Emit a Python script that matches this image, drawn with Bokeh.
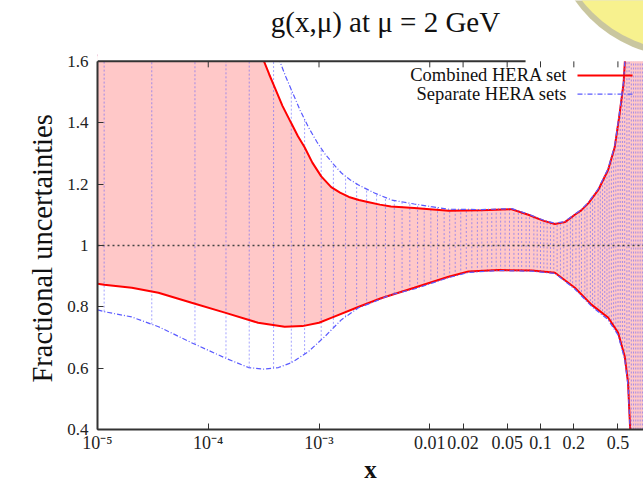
import numpy as np
from bokeh.plotting import figure
from bokeh.models import FixedTicker, Range1d, Label, Title
from bokeh.embed import file_html
from bokeh.resources import INLINE

# ---- data (log10 x, value) ----
red_upper_logx = [-5.00, -4.50, -4.00, -3.70, -3.55, -3.50, -3.45, -3.40, -3.33, -3.25, -3.19, -3.13,
                  -3.06, -2.98, -2.89, -2.81, -2.73, -2.64, -2.55, -2.45, -2.35, -2.14, -1.83, -1.53,
                  -1.26, -1.11, -0.97, -0.87, -0.78, -0.69, -0.63, -0.567, -0.48, -0.39, -0.33, -0.29,
                  -0.25, -0.235, -0.20, -0.10, 0.0]
red_upper = [2.60, 2.30, 2.00, 1.78, 1.64, 1.603, 1.558, 1.515, 1.455, 1.398, 1.356, 1.320,
             1.270, 1.225, 1.190, 1.172, 1.158, 1.148, 1.141, 1.133, 1.127, 1.122, 1.113, 1.115,
             1.118, 1.100, 1.080, 1.070, 1.076, 1.100, 1.115, 1.138, 1.180, 1.246, 1.320, 1.418,
             1.528, 1.62, 1.90, 2.50, 3.0]

red_lower_logx = [-5.00, -4.94, -4.69, -4.45, -4.15, -3.85, -3.55, -3.31, -3.15, -3.00, -2.89, -2.64,
                  -2.44, -2.14, -1.83, -1.65, -1.38, -1.08, -0.87, -0.69, -0.54, -0.39, -0.30, -0.24,
                  -0.21, -0.196, -0.185, -0.10, 0.0]
red_lower = [0.875, 0.872, 0.862, 0.846, 0.813, 0.781, 0.748, 0.735, 0.737, 0.748, 0.764, 0.800,
             0.828, 0.862, 0.898, 0.915, 0.920, 0.918, 0.911, 0.862, 0.807, 0.765, 0.716, 0.639,
             0.554, 0.444, 0.36, 0.0, 0.0]

blue_upper_logx = [-5.00, -4.00, -3.60, -3.45, -3.357, -3.30, -3.248, -3.17, -3.095, -3.02, -2.95, -2.87,
                   -2.797, -2.72, -2.643, -2.499, -2.345, -2.14, -1.83, -1.53, -1.26, -1.11, -0.97, -0.87,
                   -0.78, -0.69, -0.63, -0.567, -0.48, -0.39, -0.33, -0.29, -0.25, -0.235, -0.20, -0.10, 0.0]
blue_upper = [3.0, 2.4, 1.85, 1.68, 1.603, 1.55, 1.506, 1.44, 1.385, 1.338, 1.300, 1.265,
              1.236, 1.214, 1.197, 1.171, 1.148, 1.135, 1.118, 1.117, 1.120, 1.102, 1.082, 1.072,
              1.078, 1.102, 1.117, 1.141, 1.184, 1.250, 1.325, 1.424, 1.535, 1.63, 1.90, 2.50, 3.0]

blue_lower_logx = [-5.00, -4.937, -4.693, -4.449, -4.151, -3.853, -3.637, -3.50, -3.366, -3.248, -3.095,
                   -2.95, -2.797, -2.643, -2.526, -2.345, -2.14, -1.83, -1.65, -1.38, -1.08, -0.87,
                   -0.69, -0.54, -0.39, -0.30, -0.24, -0.21, -0.196, -0.185, -0.10, 0.0]
blue_lower = [0.790, 0.784, 0.767, 0.735, 0.683, 0.634, 0.602, 0.597, 0.602, 0.618, 0.654,
              0.702, 0.758, 0.797, 0.813, 0.840, 0.858, 0.895, 0.912, 0.918, 0.916, 0.909,
              0.858, 0.802, 0.758, 0.708, 0.630, 0.545, 0.44, 0.35, 0.0, 0.0]

# x grid of the separate-sets band (vertical pattern lines), log10 x
grid_logx = [-4.94, -4.51, -4.12, -3.84, -3.63, -3.41, -3.25, -3.13, -2.98, -2.87, -2.76, -2.66,
             -2.57, -2.48, -2.40, -2.32, -2.25, -2.18, -2.11, -2.05, -1.99, -1.93, -1.87, -1.82,
             -1.77, -1.72, -1.67, -1.62, -1.57, -1.53, -1.48, -1.44, -1.40, -1.36, -1.32, -1.28,
             -1.24, -1.20, -1.17, -1.13, -1.10, -1.06, -1.03, -1.00, -0.97, -0.94, -0.91, -0.88,
             -0.85, -0.82, -0.79, -0.76, -0.73, -0.71, -0.68, -0.65, -0.63, -0.60, -0.58, -0.55,
             -0.53, -0.51, -0.48, -0.46, -0.44, -0.42, -0.40, -0.38, -0.36, -0.34, -0.32, -0.30,
             -0.28, -0.26, -0.24, -0.22, -0.20, -0.18, -0.16, -0.14, -0.12, -0.10, -0.08]

x_ticks = [1e-5, 1e-4, 1e-3, 0.01, 0.02, 0.05, 0.1, 0.2, 0.5]
x_tick_labels = ["10⁻⁵", "10⁻⁴", "10⁻³", "0.01", "0.02", "0.05", "0.1", "0.2", "0.5"]
y_ticks = [0.4, 0.6, 0.8, 1.0, 1.2, 1.4, 1.6]
y_tick_labels = ["0.4", "0.6", "0.8", "1", "1.2", "1.4", "1.6"]

title_text = "g(x,μ) at μ = 2 GeV"
y_label_text = "Fractional uncertainties"
legend_labels = ["Combined HERA set", "Separate HERA sets"]

FONT = "Liberation Serif"
RED = "#ff0000"
BLUE = "#5a5aff"
AX = "#333333"

PX_PER_UNIT = 307.5            # vertical scale of the plot box
X0, X1 = 1e-5, 10 ** (-0.070)
Y0, Y1 = 0.4, 1.6              # plotted value window
YTOP = Y1 + 61 / PX_PER_UNIT   # frame is extended up to the top of the canvas (title area)
YCUT = Y1 + 0.02               # drawing cut just above the value window (hidden by the mask)

p = figure(width=643, height=485, x_axis_type="log", output_backend="svg",
           toolbar_location=None, title_location=None,
           x_range=Range1d(X0, X1), y_range=Range1d(Y0, YTOP),
           min_border_left=97, min_border_right=0, min_border_top=0, min_border_bottom=55)
p.outline_line_color = None
p.xgrid.visible = False
p.ygrid.visible = False
p.background_fill_color = "white"
p.border_fill_color = "white"

ru_x = 10 ** np.array(red_upper_logx)
rl_x = 10 ** np.array(red_lower_logx)
bu_x = 10 ** np.array(blue_upper_logx)
bl_x = 10 ** np.array(blue_lower_logx)
ru_y = np.minimum(red_upper, YCUT)
rl_y = np.minimum(red_lower, YCUT)
bu_y = np.minimum(blue_upper, YCUT)
bl_y = np.minimum(blue_lower, YCUT)

# combined band (pink fill)
p.patch(np.concatenate([ru_x, rl_x[::-1]]),
        np.concatenate([ru_y, rl_y[::-1]]),
        fill_color="#ffc8c8", line_color=None)

# separate sets band: vertical dotted lines at the grid points
gx = np.array(grid_logx)
g_lo = np.clip(np.interp(gx, blue_lower_logx, blue_lower), Y0, Y1)
g_hi = np.clip(np.interp(gx, blue_upper_logx, blue_upper), Y0, Y1)
p.segment(x0=10 ** gx, y0=g_lo, x1=10 ** gx, y1=g_hi,
          line_color=BLUE, line_width=1, line_alpha=0.55, line_dash="2 2")

# reference line at 1
p.line([X0, X1], [1.0, 1.0], line_color="#444444", line_width=1.5, line_dash="2 3")

# combined set edges
p.line(ru_x, ru_y, line_color=RED, line_width=2)
p.line(rl_x, rl_y, line_color=RED, line_width=2)
# separate sets edges
p.line(bu_x, bu_y, line_color=BLUE, line_width=1.2, line_dash="5 2 1 2")
p.line(bl_x, bl_y, line_color=BLUE, line_width=1.2, line_dash="5 2 1 2")

# mask everything above the value window (title area)
p.quad(left=X0 / 100, right=X1 * 100, bottom=Y1, top=YTOP + 5,
       fill_color="white", line_color=None)

# top border with inward ticks
p.line([X0, 10 ** (-1.135)], [Y1, Y1], line_color=AX, line_width=2)
p.segment(x0=x_ticks, y0=[Y1] * len(x_ticks), x1=x_ticks,
          y1=[Y1 - 6 / PX_PER_UNIT] * len(x_ticks), line_color=AX, line_width=1)

# legend (text left of sample, as in the reference)
leg_y = [1.554, 1.493]
txt_x = 10 ** (-0.756)
s0, s1 = 10 ** (-0.666), 10 ** (-0.169)
for lab, yy in zip(legend_labels, leg_y):
    p.add_layout(Label(x=txt_x, y=yy, text=lab, text_align="right", text_baseline="middle",
                       text_font=FONT, text_font_size="18.5px", text_color="#111111"))
p.line([s0, s1], [leg_y[0], leg_y[0]], line_color=RED, line_width=2)
p.line([s0, s1], [leg_y[1], leg_y[1]], line_color=BLUE, line_width=1.2, line_dash="5 2 1 2")

# decorative yellow disc in the top-right corner (slide artwork)
disc_x, disc_y = 10 ** 0.300, Y1 + 141 / PX_PER_UNIT
p.circle(x=[10 ** 0.282], y=[disc_y - 5 / PX_PER_UNIT], radius=131, radius_units="screen",
         fill_color="#9c9850", fill_alpha=0.55, line_color=None)
p.circle(x=[disc_x], y=[disc_y], radius=130, radius_units="screen",
         fill_color="#f7f18e", line_color=None)

# title inside the (extended) frame
p.add_layout(Label(x=10 ** (-2.40), y=Y1 + 39 / PX_PER_UNIT, text=title_text,
                   text_align="center", text_baseline="middle",
                   text_font=FONT, text_font_size="29px", text_color="#111111"))

# axes
xa = p.xaxis[0]
xa.ticker = FixedTicker(ticks=x_ticks)
xa.major_label_overrides = dict(zip(x_ticks, x_tick_labels))
ya = p.yaxis[0]
ya.ticker = FixedTicker(ticks=y_ticks)
ya.major_label_overrides = dict(zip(y_ticks, y_tick_labels))
ya.bounds = (Y0, Y1)

for ax in [xa, ya]:
    ax.axis_line_color = AX
    ax.axis_line_width = 2
    ax.major_tick_line_color = AX
    ax.major_tick_in = 6
    ax.major_tick_out = 0
    ax.minor_tick_in = 0
    ax.minor_tick_out = 0
    ax.major_label_text_font = FONT
    ax.major_label_text_color = "#222222"

xa.major_label_text_font_size = "18px"
xa.major_label_standoff = 3
ya.major_label_text_font_size = "17px"
ya.major_label_standoff = 9

xa.axis_label = "x"
xa.axis_label_text_font = FONT
xa.axis_label_text_font_style = "bold"
xa.axis_label_text_font_size = "25px"
xa.axis_label_standoff = 0
xa.axis_label_text_color = "#111111"

# y label as a side title so that it can be centred on the value window
p.add_layout(Title(text=y_label_text, align="left", offset=47, standoff=13,
                   text_font=FONT, text_font_size="28.5px", text_font_style="normal",
                   text_color="#111111"), "left")

open("out.html", "w").write(file_html(p, INLINE))
